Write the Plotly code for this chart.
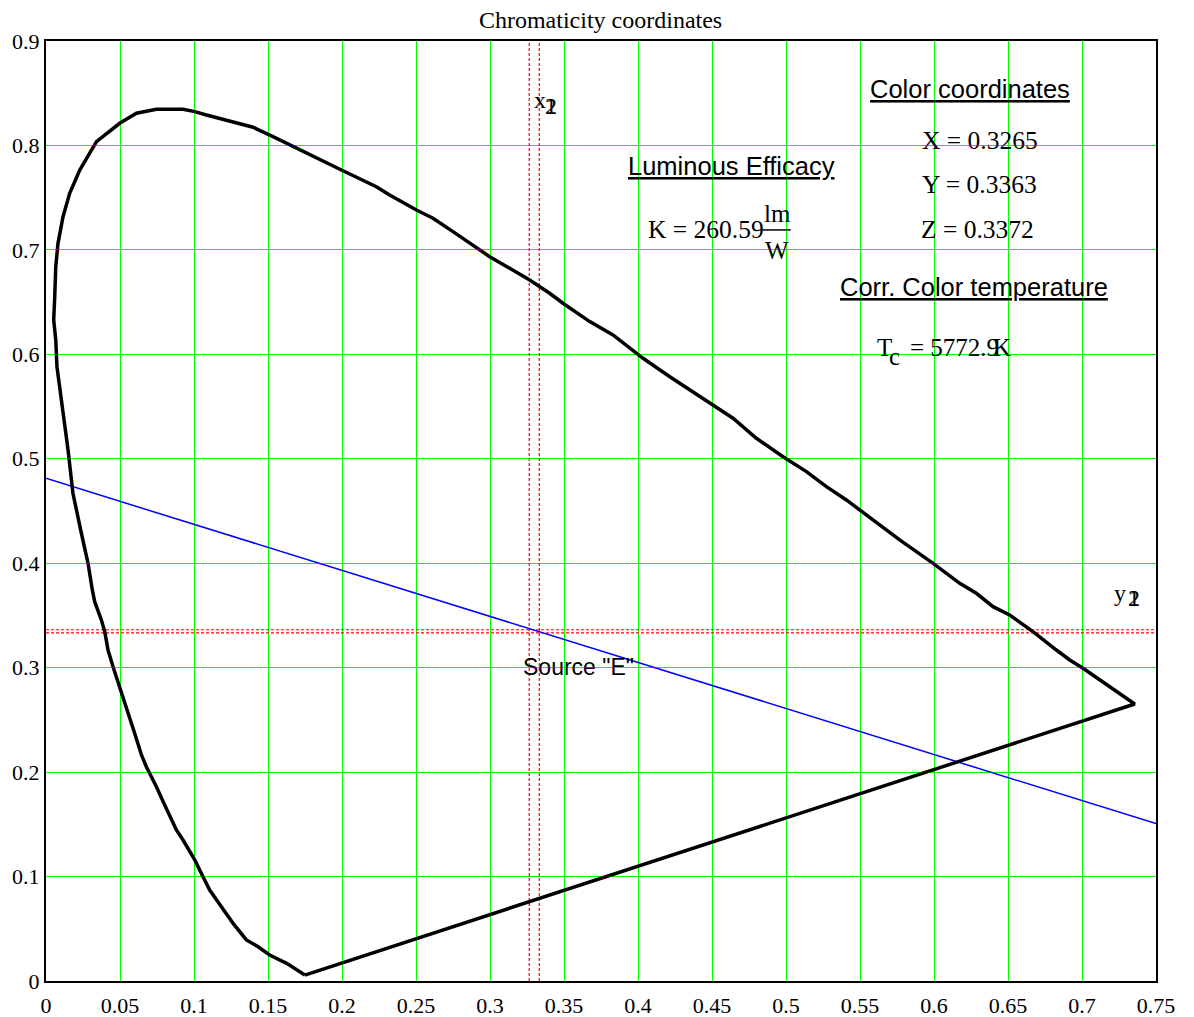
import plotly.graph_objects as go

# Spectral locus, ordered violet -> up left side -> top -> red
locus_x = [0.1749, 0.1626, 0.1511, 0.1433, 0.1354, 0.1264, 0.1185, 0.1106, 0.1061, 0.1005,
           0.0926, 0.0881, 0.0802, 0.0746, 0.0678, 0.0645, 0.0599, 0.0554, 0.0509, 0.0486,
           0.0453, 0.0419, 0.0397, 0.0374, 0.0329, 0.0313, 0.0284, 0.0239, 0.0182, 0.0149,
           0.0104, 0.0074, 0.0066, 0.0052, 0.0059, 0.0066, 0.0081, 0.0115, 0.0160, 0.0228,
           0.0341, 0.0498, 0.0611, 0.0746, 0.0926, 0.1005, 0.1084, 0.1219, 0.1399, 0.1534,
           0.1714, 0.1996, 0.2232, 0.2322, 0.2503, 0.2615, 0.2750, 0.2885, 0.2998, 0.3268,
           0.3403, 0.3493, 0.3674, 0.3831, 0.3966, 0.4034, 0.4220, 0.4417, 0.4642, 0.4800,
           0.4980, 0.5138, 0.5273, 0.5408, 0.5588, 0.5768, 0.5994, 0.6174, 0.6286, 0.6399,
           0.6511, 0.6669, 0.6827, 0.6917, 0.7007, 0.7119, 0.7232, 0.7356, 0.1749]
locus_y = [0.0057, 0.0169, 0.0249, 0.0328, 0.0393, 0.0552, 0.0711, 0.0871, 0.0999, 0.1159,
           0.1350, 0.1446, 0.1685, 0.1860, 0.2052, 0.2164, 0.2372, 0.2563, 0.2755, 0.2850,
           0.3009, 0.3169, 0.3345, 0.3457, 0.3632, 0.3744, 0.3999, 0.4287, 0.4670, 0.5084,
           0.5563, 0.5882, 0.6137, 0.6329, 0.6552, 0.6839, 0.7063, 0.7318, 0.7542, 0.7765,
           0.8036, 0.8212, 0.8308, 0.8346, 0.8346, 0.8324, 0.8292, 0.8244, 0.8174, 0.8084,
           0.7958, 0.7765, 0.7605, 0.7526, 0.7382, 0.7303, 0.7175, 0.7047, 0.6935, 0.6712,
           0.6585, 0.6489, 0.6313, 0.6186, 0.6042, 0.5962, 0.5780, 0.5595, 0.5388, 0.5196,
           0.5020, 0.4877, 0.4733, 0.4606, 0.4414, 0.4223, 0.3999, 0.3808, 0.3712, 0.3584,
           0.3504, 0.3345, 0.3169, 0.3074, 0.2994, 0.2882, 0.2770, 0.2652, 0.0057]

# Blue line through source E
blue_x = [0.0, 0.75]
blue_y = [0.4813, 0.1507]

# Marker lines
x_marks = [0.3265, 0.3333]
y_marks = [0.3363, 0.3333]

x_ticks = [0, 0.05, 0.1, 0.15, 0.2, 0.25, 0.3, 0.35, 0.4, 0.45, 0.5, 0.55, 0.6, 0.65, 0.7, 0.75]
x_ticktext = ["0", "0.05", "0.1", "0.15", "0.2", "0.25", "0.3", "0.35", "0.4", "0.45",
              "0.5", "0.55", "0.6", "0.65", "0.7", "0.75"]
y_ticks = [0, 0.1, 0.2, 0.3, 0.4, 0.5, 0.6, 0.7, 0.8, 0.9]
y_ticktext = ["0", "0.1", "0.2", "0.3", "0.4", "0.5", "0.6", "0.7", "0.8", "0.9"]

SERIF = "Liberation Serif"
SANS = "Liberation Sans"

fig = go.Figure()

for xv in x_marks:
    fig.add_trace(go.Scatter(x=[xv, xv], y=[0, 0.9], mode="lines",
                             line=dict(color="#ff0000", width=1.2, dash="3px,2px"),
                             hoverinfo="skip", showlegend=False))
for yv in y_marks:
    fig.add_trace(go.Scatter(x=[0, 0.75], y=[yv, yv], mode="lines",
                             line=dict(color="#ff0000", width=1.2, dash="3px,2px"),
                             hoverinfo="skip", showlegend=False))

fig.add_trace(go.Scatter(x=blue_x, y=blue_y, mode="lines",
                         line=dict(color="#0000ff", width=1.5), showlegend=False))
fig.add_trace(go.Scatter(x=locus_x, y=locus_y, mode="lines",
                         line=dict(color="black", width=3.5), showlegend=False))

annotations = [
    dict(x=0.624, y=0.854, text="<u>Color coordinates</u>", font=dict(family=SANS, size=25.5)),
    dict(x=0.4633, y=0.7804, text="<u>Luminous Efficacy</u>", font=dict(family=SANS, size=25.5)),
    dict(x=0.6272, y=0.6645, text="<u>Corr. Color temperature</u>", font=dict(family=SANS, size=25.5)),
    dict(x=0.3599, y=0.3007, text='Source "E"', font=dict(family=SANS, size=23)),
    dict(x=0.6309, y=0.8052, text="X = 0.3265", font=dict(family=SERIF, size=25.5)),
    dict(x=0.6309, y=0.7622, text="Y = 0.3363", font=dict(family=SERIF, size=25.5)),
    dict(x=0.6295, y=0.7191, text="Z = 0.3372", font=dict(family=SERIF, size=25.5)),
    dict(x=0.5599, y=0.6070, text="T", xanchor="left", font=dict(family=SERIF, size=25)),
    dict(x=0.5680, y=0.5984, text="c", xanchor="left", font=dict(family=SERIF, size=25)),
    dict(x=0.5822, y=0.6070, text="= 5772.9", xanchor="left", font=dict(family=SERIF, size=25)),
    dict(x=0.6383, y=0.6070, text="K", xanchor="left", font=dict(family=SERIF, size=25)),
    dict(x=0.4457, y=0.7191, text="K = 260.59", font=dict(family=SERIF, size=25.5)),
    dict(x=0.4944, y=0.7353, text="lm", font=dict(family=SERIF, size=25)),
    dict(x=0.4937, y=0.6990, text="W", font=dict(family=SERIF, size=25)),
    dict(x=0.3336, y=0.8435, text="x", font=dict(family=SERIF, size=24)),
    dict(x=0.3410, y=0.8378, text="1", font=dict(family=SERIF, size=24)),
    dict(x=0.3410, y=0.8378, text="2", font=dict(family=SERIF, size=24)),
    dict(x=0.7255, y=0.3715, text="y", font=dict(family=SERIF, size=24)),
    dict(x=0.7349, y=0.3667, text="2", font=dict(family=SERIF, size=24)),
    dict(x=0.7349, y=0.3667, text="1", font=dict(family=SERIF, size=24)),
]
for a in annotations:
    a.setdefault("xanchor", "center")
    a.update(xref="x", yref="y", showarrow=False, yanchor="middle")
    a["font"]["color"] = "black"

fig.add_shape(type="line", xref="x", yref="y", x0=0.4841, x1=0.5032, y0=0.7191, y1=0.7191,
              line=dict(color="black", width=1.5))

axis_common = dict(showgrid=True, gridcolor="#00ff00", gridwidth=1, zeroline=False,
                   showline=True, linecolor="black", linewidth=2, mirror=True,
                   ticks="", automargin=False,
                   tickfont=dict(family=SERIF, size=22, color="black"))

fig.update_layout(
    width=1194, height=1017,
    margin=dict(l=46, r=38, t=41, b=36),
    paper_bgcolor="white", plot_bgcolor="white",
    title=dict(text="Chromaticity coordinates", x=0.503, xanchor="center",
               yref="container", y=1 - 20 / 1017, yanchor="middle",
               font=dict(family=SERIF, size=24, color="black")),
    xaxis=dict(range=[0, 0.75], tickvals=x_ticks, ticktext=x_ticktext,
               ticklabelstandoff=4, **axis_common),
    yaxis=dict(range=[0, 0.9], tickvals=y_ticks, ticktext=y_ticktext, **axis_common),
    annotations=annotations,
    showlegend=False,
)

fig.write_html("out.html")
